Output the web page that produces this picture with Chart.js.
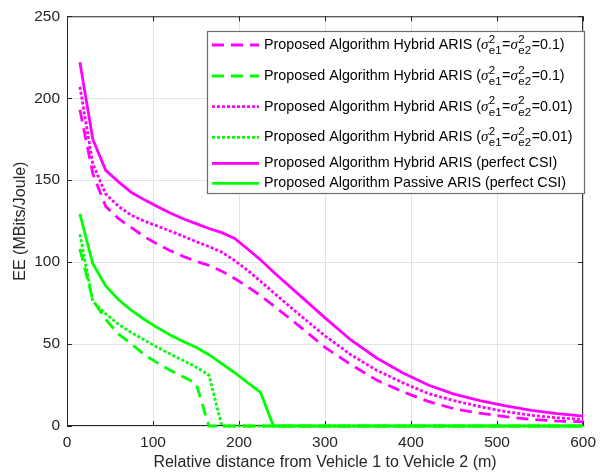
<!DOCTYPE html>
<html>
<head>
<meta charset="utf-8">
<script src="https://cdn.jsdelivr.net/npm/chart.js@4.4.1/dist/chart.umd.min.js"></script>
<style>
  body { margin: 0; background: #fff; }
  canvas { display: block; }
</style>
</head>
<body>
<canvas id="myChart" width="603" height="476"></canvas>
<script>
// distance between the vehicles (m)
const distances = [15, 30, 45, 60, 75, 90, 105, 120, 135, 150, 165, 180, 195, 210, 225, 240,
  270, 300, 330, 360, 390, 420, 450, 480, 510, 540, 570, 600]

// EE (MBits/Joule)
const hybridErr01 = [193, 154, 134, 126.5, 121, 115.5, 111, 107, 103.5, 100.5, 98, 94.5, 90, 85, 79.5, 73.5,
  61, 48, 37.5, 28, 21, 15, 10.5, 7.8, 5.7, 4, 3, 2.5]
const passiveErr01 = [108, 77, 65, 56, 50, 43.5, 38.5, 34, 30, 26, 0, 0, 0, 0, 0, 0,
  0, 0, 0, 0, 0, 0, 0, 0, 0, 0, 0, 0]
const hybridErr001 = [207, 160, 141.5, 134, 128.5, 125, 122, 119, 115.8, 112.5, 109.5, 106, 101, 95, 88.3, 81.5,
  68, 55, 43.5, 34, 26.5, 19.8, 15.5, 11.8, 8.8, 6.5, 5, 4]
const passiveErr001 = [117, 76, 68.5, 62, 57, 52.5, 48, 44, 40, 36, 31, 0, 0, 0, 0, 0,
  0, 0, 0, 0, 0, 0, 0, 0, 0, 0, 0, 0]
const hybridPerfect = [222, 175, 156, 149, 142.5, 138, 134, 130, 126.5, 123.5, 120.5, 118, 114.5, 108, 101.4, 94,
  80, 66, 52.5, 41.5, 32.5, 25, 19.5, 15.5, 12.3, 9.5, 7.5, 6]
const passivePerfect = [129.5, 99, 85.5, 77, 70.5, 65, 60, 55.5, 51.5, 48, 43.5, 38, 32.5, 26.5, 20.5, 0,
  0, 0, 0, 0, 0, 0, 0, 0, 0, 0, 0, 0]

const xTicks = [0, 100, 200, 300, 400, 500, 600]
const yTicks = [0, 50, 100, 150, 200, 250]

const legendNames = [
  'Proposed Algorithm Hybrid ARIS',
  'Proposed Algorithm Hybrid ARIS',
  'Proposed Algorithm Hybrid ARIS',
  'Proposed Algorithm Hybrid ARIS',
  'Proposed Algorithm Hybrid ARIS',
  'Proposed Algorithm Passive ARIS',
]
const legendErr = ['0.1', '0.1', '0.01', '0.01', null, null]

const MAGENTA = '#ff00ff'
const GREEN = '#00ff00'
const DASH = [12, 7]
const DOT = [3, 2]

const pts = vals => distances.map((d, i) => ({ x: d, y: vals[i] }))

const mkSet = (vals, color, dash, i) => ({
  label: legendNames[i] + (legendErr[i] ? ' (σ²e1=σ²e2=' + legendErr[i] + ')' : ' (perfect CSI)'),
  data: pts(vals),
  borderColor: color,
  backgroundColor: color,
  borderDash: dash,
  borderWidth: 2.8,
  borderCapStyle: 'butt',
  pointRadius: 0,
  tension: 0,
  clip: 4,
})

const FONT = "'Liberation Sans', Arial, sans-serif"
Chart.defaults.font.family = FONT
Chart.defaults.color = '#262626'

// matlab style box + inward ticks, and the legend with sub/superscripts
const matlabAxes = {
  id: 'matlabAxes',
  beforeDatasetsDraw(chart) {
    const { ctx, chartArea: a, scales: { x, y } } = chart
    ctx.save()
    ctx.strokeStyle = '#262626'
    ctx.lineWidth = 1
    ctx.beginPath()
    ctx.rect(a.left + 0.5, a.top + 0.5, a.right - a.left - 1, a.bottom - a.top - 1)
    xTicks.forEach(v => {
      const px = Math.round(x.getPixelForValue(v)) + 0.5
      ctx.moveTo(px, a.bottom); ctx.lineTo(px, a.bottom - 5)
      ctx.moveTo(px, a.top); ctx.lineTo(px, a.top + 5)
    })
    yTicks.forEach(v => {
      const py = Math.round(y.getPixelForValue(v)) + 0.5
      ctx.moveTo(a.left, py); ctx.lineTo(a.left + 5, py)
      ctx.moveTo(a.right, py); ctx.lineTo(a.right - 5, py)
    })
    ctx.stroke()
    ctx.restore()
  },
  afterDraw(chart) {
    const { ctx } = chart
    const box = { left: 207, top: 31, right: 584, bottom: 193 }
    const rows = [45, 76, 106.7, 137.3, 163.3, 183.3]
    const main = '14.3px ' + FONT
    const ital = "italic 15px 'Liberation Serif', 'Times New Roman', serif"
    const small = '11.5px ' + FONT
    ctx.save()
    ctx.fillStyle = '#fff'
    ctx.fillRect(box.left, box.top, box.right - box.left, box.bottom - box.top)
    ctx.strokeStyle = '#6e6e6e'
    ctx.lineWidth = 1.2
    ctx.strokeRect(box.left + 0.5, box.top + 0.5, box.right - box.left, box.bottom - box.top)

    const piece = (t, x, y, f) => {
      ctx.font = f
      ctx.fillText(t, x, y)
      return x + ctx.measureText(t).width
    }
    const stack = (sup, sub, x, y) => {
      ctx.font = small
      ctx.fillText(sup, x + 0.5, y - 5.5)
      ctx.fillText(sub, x + 0.5, y + 6)
      return x + Math.max(ctx.measureText(sup).width, ctx.measureText(sub).width) + 1
    }

    chart.data.datasets.forEach((ds, i) => {
      const y = rows[i]
      ctx.strokeStyle = ds.borderColor
      ctx.lineWidth = 2.8
      ctx.lineCap = 'butt'
      ctx.setLineDash(ds.borderDash || [])
      ctx.beginPath()
      ctx.moveTo(212, y)
      ctx.lineTo(259, y)
      ctx.stroke()
      ctx.setLineDash([])

      ctx.fillStyle = '#000'
      ctx.textBaseline = 'middle'
      let x = 264
      if (legendErr[i]) {
        x = piece(legendNames[i] + ' (', x, y, main)
        x = piece('σ', x, y, ital)
        x = stack('2', 'e1', x, y)
        x = piece('=', x, y, main)
        x = piece('σ', x, y, ital)
        x = stack('2', 'e2', x, y)
        piece('=' + legendErr[i] + ')', x, y, main)
      } else {
        piece(legendNames[i] + ' (perfect CSI)', x, y, main)
      }
    })
    ctx.restore()
  }
}

const data = {
  datasets: [
    mkSet(hybridErr01, MAGENTA, DASH, 0),
    mkSet(passiveErr01, GREEN, DASH, 1),
    mkSet(hybridErr001, MAGENTA, DOT, 2),
    mkSet(passiveErr001, GREEN, DOT, 3),
    mkSet(hybridPerfect, MAGENTA, [], 4),
    mkSet(passivePerfect, GREEN, [], 5),
  ]
}

const config = {
  type: 'line',
  data: data,
  plugins: [matlabAxes],
  options: {
    responsive: false,
    animation: false,
    layout: { padding: { left: 0, top: 13, right: 15, bottom: 0 } },
    plugins: {
      legend: { display: false },
      tooltip: { enabled: false },
    },
    scales: {
      x: {
        type: 'linear',
        min: 0,
        max: 600,
        afterFit: s => { s.height = 50 },
        afterBuildTicks: s => { s.ticks = xTicks.map(v => ({ value: v })) },
        grid: { color: '#e3e3e3', drawTicks: false },
        border: { display: false },
        ticks: { padding: 7, font: { size: 15.5 }, color: '#262626' },
        title: {
          display: true,
          text: 'Relative distance from Vehicle 1 to Vehicle 2 (m)',
          font: { size: 16 },
          color: '#262626',
          padding: { top: 0, bottom: 4 },
        },
      },
      y: {
        type: 'linear',
        min: 0,
        max: 250,
        afterFit: s => { s.width = 67 },
        afterBuildTicks: s => { s.ticks = yTicks.map(v => ({ value: v })) },
        grid: { color: '#e3e3e3', drawTicks: false },
        border: { display: false },
        ticks: { padding: 7, font: { size: 15.5 }, color: '#262626' },
        title: {
          display: true,
          text: 'EE (MBits/Joule)',
          font: { size: 16 },
          color: '#262626',
          padding: { top: 11, bottom: 0 },
        },
      },
    },
  },
}

const myChart = new Chart(document.getElementById('myChart'), config)
</script>
</body>
</html>
